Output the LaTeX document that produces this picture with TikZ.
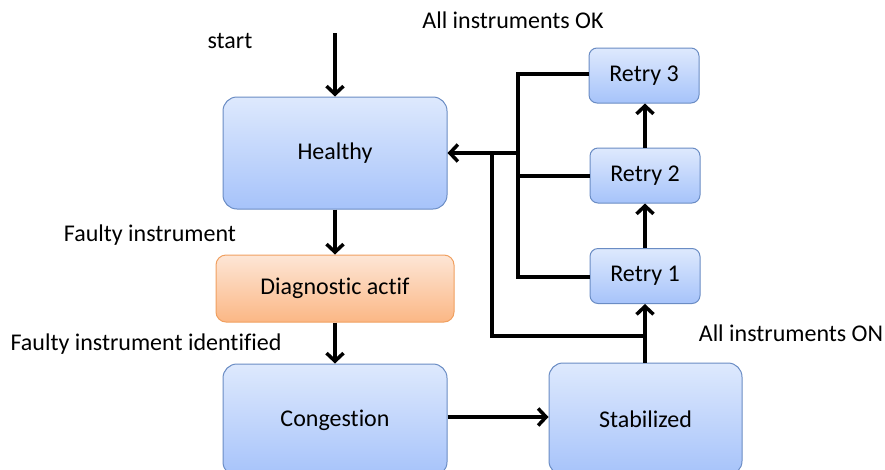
\documentclass[tikz,border=0pt]{standalone}
\usepackage{fontspec}
\setmainfont{Carlito}[Ligatures=NoCommon]
\usetikzlibrary{arrows.meta}
\definecolor{bTop}{HTML}{DEE9FD}
\definecolor{bBot}{HTML}{A6C3FA}
\definecolor{bLine}{HTML}{6A8CC4}
\definecolor{oTop}{HTML}{FDE6D6}
\definecolor{oBot}{HTML}{FBB785}
\definecolor{oLine}{HTML}{F0A060}
\tikzset{
  bluebox/.style={draw=bLine, line width=1pt, rounded corners=14pt, top color=bTop, bottom color=bBot, font=\fontsize{24}{28}\selectfont},
  smallbox/.style={bluebox, rounded corners=8pt},
  orangebox/.style={draw=oLine, line width=1pt, rounded corners=10pt, top color=oTop, bottom color=oBot, font=\fontsize{24}{28}\selectfont},
  conn/.style={line width=3.5pt, -{Straight Barb[length=8pt,width=17pt,line width=3.5pt]}},
  wire/.style={line width=3.5pt},
  lbl/.style={font=\fontsize{24}{28}\selectfont, inner sep=0pt}
}
\begin{document}
\begin{tikzpicture}[x=1pt,y=-1pt]
\useasboundingbox (0,0) rectangle (885,469);
\begin{scope}
\clip (0,0) rectangle (885,469);
\node[bluebox, minimum width=224pt, minimum height=112pt] (healthy) at (335,153) {Healthy};
\node[orangebox, minimum width=238pt, minimum height=67pt] (diag) at (335,288.5) {Diagnostic actif};
\node[bluebox, minimum width=224pt, minimum height=112pt] (cong) at (335,420) {Congestion};
\node[bluebox, minimum width=193pt, minimum height=112pt] (stab) at (645.5,419) {Stabilized};
\end{scope}
\node[smallbox, minimum width=110pt, minimum height=55pt] (r3) at (644,75.5) {Retry 3};
\node[smallbox, minimum width=110pt, minimum height=55pt] (r2) at (645,175.5) {Retry 2};
\node[smallbox, minimum width=110pt, minimum height=55pt] (r1) at (645,276) {Retry 1};

\coordinate (s0) at (335,33);
\node[lbl] (lstart) at (230,41) {start};
\node[lbl] (lfi) at (150,235) {Faulty instrument};
\node[lbl] (lfid) at (146,344) {Faulty instrument identified};
\node[lbl] (lon) at (791,333) {All instruments ON};
\node[lbl] (lok) at (513,20) {All instruments OK};

\draw[conn] (s0) -- (healthy.north);
\draw[conn] (healthy.south) -- (diag.north);
\draw[conn] (diag.south) -- (cong.north);
\draw[conn] (cong.east |- 0,417) -- (stab.west |- 0,417);
\coordinate (sj) at (645,336);
\draw[conn] (stab.north -| 645,0) -- (r1.south -| 645,0);
\draw[conn] (r1.north -| 645,0) -- (r2.south -| 645,0);
\draw[conn] (r2.north -| 645,0) -- (r3.south -| 645,0);
\coordinate (bus) at (518,153);
\draw[wire] (sj) -- (492,336) -- (492,153);
\draw[wire] (r3.west |- 0,74) -- (518,74) -- (518,277) -- (r1.west |- 0,277);
\draw[wire] (r2.west |- 0,176) -- (518,176);
\draw[conn] (bus) -- (healthy.east |- 0,153);
\end{tikzpicture}
\end{document}
